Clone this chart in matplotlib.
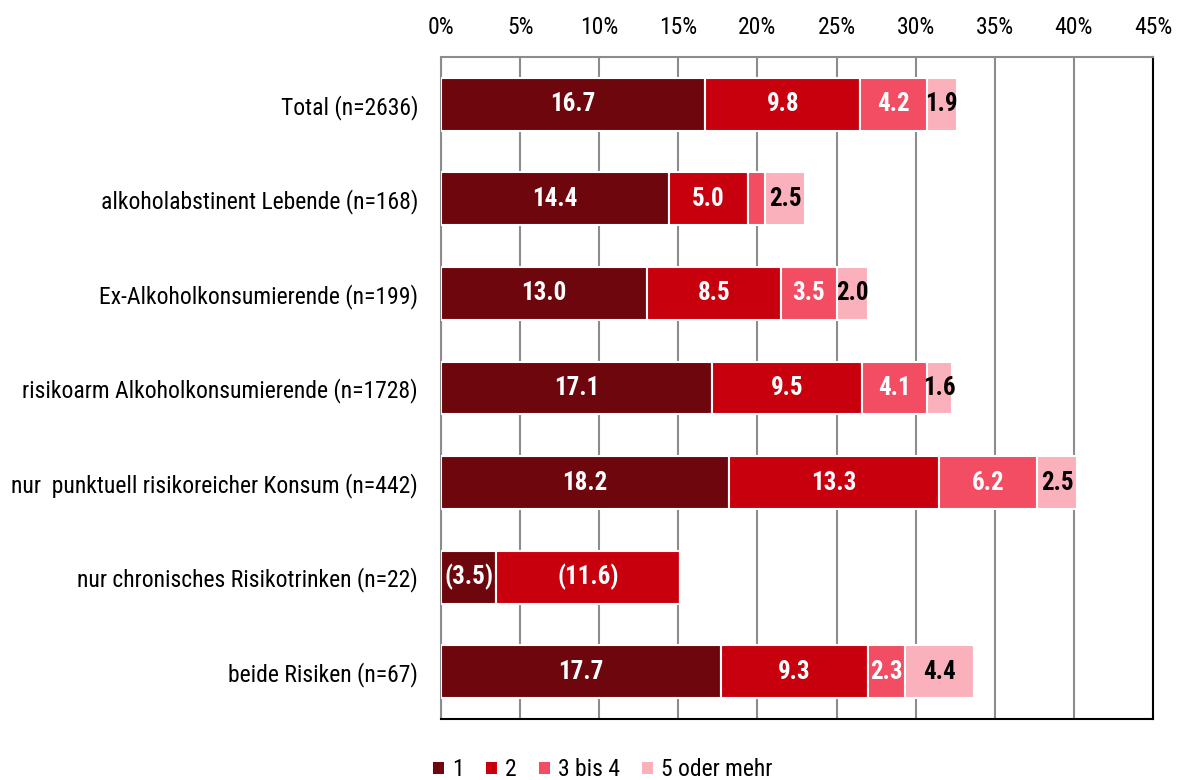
import matplotlib
matplotlib.use("Agg")
import matplotlib.pyplot as plt
from matplotlib.patches import Patch
from matplotlib import font_manager
import numpy as np

# prefer a narrow font if one exists
names = {f.name for f in font_manager.fontManager.ttflist}
narrow = None
for cand in ["Liberation Sans Narrow", "Arial Narrow", "Roboto Condensed", "Open Sans Condensed"]:
    if cand in names:
        narrow = cand
        break
if narrow is None:
    for n in sorted(names):
        if "Narrow" in n or "Condensed" in n:
            narrow = n
            break
fam = ([narrow] if narrow else []) + ['Liberation Sans', 'DejaVu Sans']
plt.rcParams['font.family'] = fam

categories = ["Total (n=2636)", "alkoholabstinent Lebende (n=168)", "Ex-Alkoholkonsumierende (n=199)",
              "risikoarm Alkoholkonsumierende (n=1728)", "nur  punktuell risikoreicher Konsum (n=442)",
              "nur chronisches Risikotrinken (n=22)", "beide Risiken (n=67)"]
series_names = ["1", "2", "3 bis 4", "5 oder mehr"]
s1 = [16.7, 14.4, 13.0, 17.1, 18.2, 3.5, 17.7]
s2 = [9.8, 5.0, 8.5, 9.5, 13.3, 11.6, 9.3]
s3 = [4.2, 1.1, 3.5, 4.1, 6.2, 0.0, 2.3]
s4 = [1.9, 2.5, 2.0, 1.6, 2.5, 0.0, 4.4]
labels1 = ["16.7", "14.4", "13.0", "17.1", "18.2", "(3.5)", "17.7"]
labels2 = ["9.8", "5.0", "8.5", "9.5", "13.3", "(11.6)", "9.3"]
labels3 = ["4.2", "", "3.5", "4.1", "6.2", "", "2.3"]
labels4 = ["1.9", "2.5", "2.0", "1.6", "2.5", "", "4.4"]
xticks = [0, 5, 10, 15, 20, 25, 30, 35, 40, 45]

colors = ["#6E070D", "#C8000E", "#F24D63", "#FBB1BC"]
text_colors = ["white", "white", "white", "black"]

if narrow:
    lab_fs, tick_fs, bar_fs = 17, 17, 18
else:
    lab_fs, tick_fs, bar_fs = 15, 15.5, 16

fig = plt.figure(figsize=(11.79, 7.8), dpi=100)
ax = fig.add_axes([441/1179, 1-719/780, (1153-441)/1179, (719-57)/780])

y = np.arange(len(categories))
left = np.zeros(len(categories))
all_series = [s1, s2, s3, s4]
all_labels = [labels1, labels2, labels3, labels4]
for vals, labs, col, tc, name in zip(all_series, all_labels, colors, text_colors, series_names):
    vals = np.array(vals)
    ax.barh(y, vals, left=left, height=0.56, color=col, edgecolor="white", linewidth=1.5,
            label=name, zorder=3)
    for yi, l, v, lab in zip(y, left, vals, labs):
        if lab and v > 0:
            ax.text(l + v/2, yi, lab, ha="center", va="center", color=tc,
                    fontsize=bar_fs, fontweight="bold", zorder=4)
    left = left + vals

ax.set_xlim(0, 45)
ax.set_ylim(6.5, -0.5)
ax.set_yticks(y)
ax.set_yticklabels(categories, fontsize=lab_fs)
ax.set_xticks(xticks)
ax.set_xticklabels([f"{t}%" for t in xticks], fontsize=tick_fs)
ax.xaxis.tick_top()
ax.tick_params(axis="both", length=0)
ax.tick_params(axis="x", pad=13)
ax.tick_params(axis="y", pad=16.5)
ax.grid(axis="x", color="#8C8C8C", linewidth=1.5, zorder=0)
ax.set_axisbelow(True)
ax.spines["top"].set_color("#8C8C8C")
ax.spines["left"].set_color("#8C8C8C")
ax.spines["top"].set_linewidth(1.5)
ax.spines["left"].set_linewidth(1.5)
ax.spines["right"].set_color("black")
ax.spines["bottom"].set_color("black")
ax.spines["right"].set_linewidth(1.5)
ax.spines["bottom"].set_linewidth(1.5)

handles = [Patch(facecolor=c, edgecolor="none") for c in colors]
fig.legend(handles, series_names, loc="center", bbox_to_anchor=(603/1179, 1-770/780), ncol=4,
           frameon=False, fontsize=tick_fs, handlelength=0.45, handleheight=0.45, handletextpad=0.35,
           columnspacing=0.95)

fig.savefig("out.png", dpi=100)
